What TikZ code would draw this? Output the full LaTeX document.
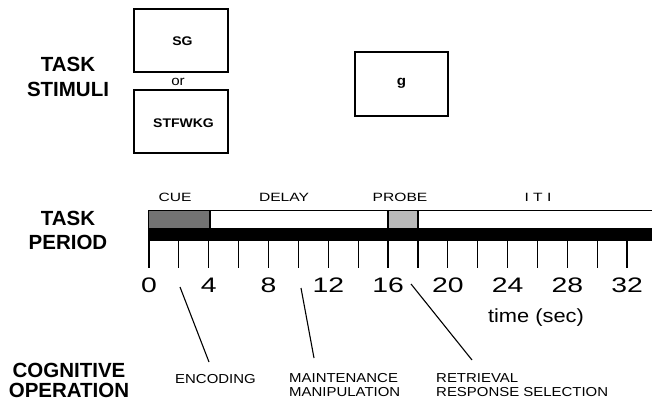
\documentclass[tikz,border=0pt]{standalone}
\usepackage{fontspec}
\setmainfont{Liberation Sans}
\newfontfamily\numfont[FakeStretch=1.35]{Liberation Sans}
\newfontfamily\perfont[FakeStretch=1.3]{Liberation Sans}
\newfontfamily\opfont[FakeStretch=1.15]{Liberation Sans}
\newfontfamily\stimfont[FakeStretch=1.12]{Liberation Sans}
\tikzset{
  biglabel/.style={font=\bfseries\fontsize{20.5}{20.5}\selectfont, inner sep=0, anchor=base},
  stimbox/.style={draw, line width=1.5pt},
  stimtext/.style={font=\stimfont\bfseries\fontsize{12.5}{12.5}\selectfont, inner sep=0, anchor=base},
  pertext/.style={font=\perfont\fontsize{12}{12}\selectfont, inner sep=0, anchor=base},
  numtext/.style={font=\numfont\fontsize{21}{21}\selectfont, inner sep=0, anchor=base},
  optext/.style={font=\opfont\fontsize{13}{13}\selectfont, inner sep=0, anchor=base west},
  tick/.style={line width=1.2pt},
  leader/.style={line width=1.1pt}
}
\begin{document}
\begin{tikzpicture}[x=1pt,y=-1pt]
\useasboundingbox[fill=white] (0,0) rectangle (652,403);

% left headings
\node[biglabel] (h1a) at (68,72) {TASK};
\node[biglabel] (h1b) at (68,97) {STIMULI};
\node[biglabel] (h2a) at (68,225) {TASK};
\node[biglabel] (h2b) at (68,249) {PERIOD};
\node[biglabel] (h3a) at (69,377) {COGNITIVE};
\node[biglabel] (h3b) at (69,397) {OPERATION};

% stimulus boxes
\draw[stimbox] (134,9) rectangle (228,72);
\draw[stimbox] (134,90) rectangle (228,153);
\draw[stimbox] (355,52) rectangle (448,116);
\node[stimtext] (sg) at (182.5,46) {SG};
\node[font=\stimfont\fontsize{13.5}{13.5}\selectfont, inner sep=0, anchor=base] (or) at (178,86) {or};
\node[stimtext] (stf) at (183.5,128) {STFWKG};
\node[font=\stimfont\bfseries\fontsize{13.5}{13.5}\selectfont, inner sep=0, anchor=base] (g) at (401.5,86) {g};

% period labels
\node[pertext] (cue) at (175,201) {CUE};
\node[pertext] (delay) at (284,201) {DELAY};
\node[pertext] (probe) at (400,201) {PROBE};
\node[pertext] (iti) at (538,201) {I T I};

% task period bar
\fill[black!55] (148,210) rectangle (210,227.5);
\fill[black!27] (388,210) rectangle (418,227.5);
\fill[black] (148,227.5) rectangle (652,241);
\draw[line width=1.1pt] (652,210.5) -- (148.5,210.5) -- (148.5,227.5);
\draw[line width=1.1pt] (210,210.5) -- (210,227.5);
\draw[line width=1.1pt] (388,210.5) -- (388,227.5);
\draw[line width=1.1pt] (418,210.5) -- (418,227.5);

% ticks
\foreach \t in {0,2,...,32}{
  \draw[tick] ({149+14.94*\t},241) -- ({149+14.94*\t},268);
}
\foreach \t in {0,4,...,32}{
  \node[numtext] (n\t) at ({149+14.94*\t},292) {\t};
}
\node[font=\opfont\fontsize{19}{19}\selectfont, inner sep=0, anchor=base] (time) at (536,322) {time (sec)};

% cognitive operations
\node[optext] (enc) at (175,383) {ENCODING};
\node[optext] (mai) at (289,382.5) {MAINTENANCE};
\node[optext] (man) at (289,396.5) {MANIPULATION};
\node[optext] (ret) at (436,382.5) {RETRIEVAL};
\node[optext] (res) at (436,396.5) {RESPONSE SELECTION};

\coordinate (encA) at (180,287);
\coordinate (encB) at (209,362);
\coordinate (maiA) at (301,288);
\coordinate (maiB) at (314,358);
\coordinate (retA) at (411,284);
\coordinate (retB) at (472,360);
\draw[leader] (encA) -- (encB);
\draw[leader] (maiA) -- (maiB);
\draw[leader] (retA) -- (retB);
\end{tikzpicture}
\end{document}
